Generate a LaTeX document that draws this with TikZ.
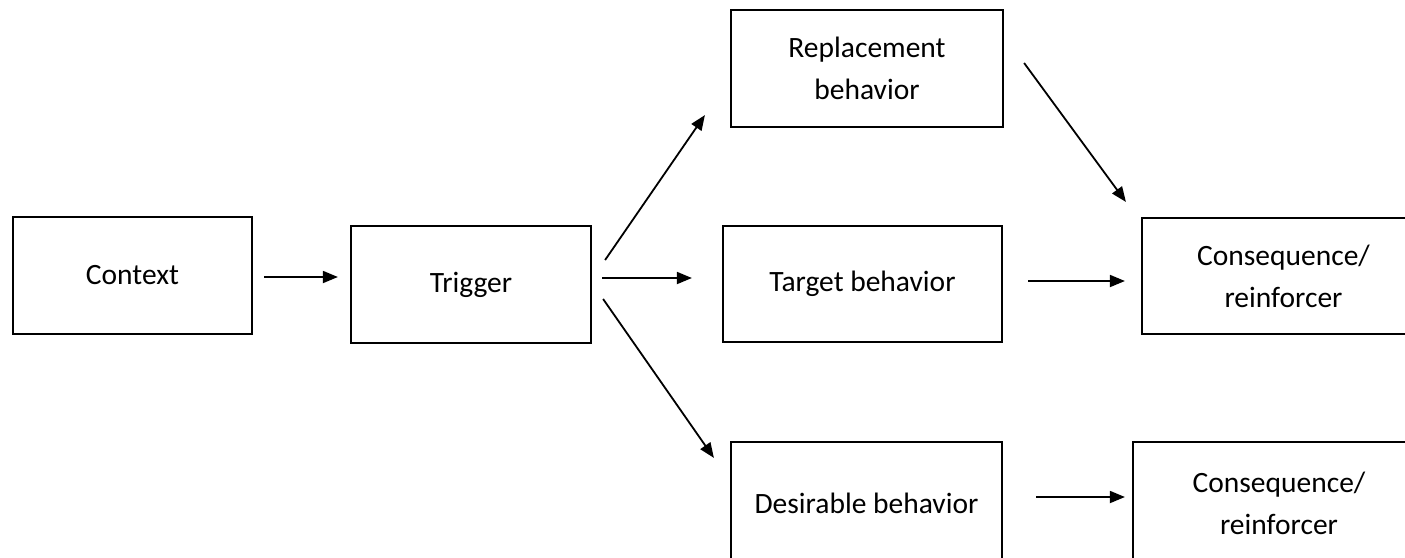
\documentclass[tikz,border=0pt]{standalone}
\usepackage{fontspec}
\setmainfont{Carlito}
\usetikzlibrary{arrows.meta}
\begin{document}
\begin{tikzpicture}[x=1pt,y=-1pt,
  box/.style={draw, line width=2.2pt, rectangle, inner sep=0pt, align=center,
    font=\fontsize{29.5}{42}\selectfont, minimum height=117pt},
  arr/.style={line width=1.8pt, -{Triangle[length=15pt,width=12pt]}}]
\useasboundingbox (0,0) rectangle (1405,557);
\clip (0,0) rectangle (1405,557);
\node[box, minimum width=239pt] (ctx) at (132.5,275.5) {Context};
\node[box, minimum width=240pt] (trg) at (471,284.5) {Trigger};
\node[box, minimum width=272pt] (rep) at (867,68.5) {Replacement\\behavior};
\node[box, minimum width=279pt, minimum height=116pt] (tgt) at (862.5,284) {Target behavior};
\node[box, minimum width=271pt, minimum height=122pt] (des) at (866.5,503) {Desirable behavior};
\node[box, minimum width=283pt, minimum height=116pt] (c1) at (1283.5,276) {Consequence/\\reinforcer};
\node[box, minimum width=292pt, minimum height=122pt] (c2) at (1279,503) {Consequence/\\reinforcer};
\draw[arr] ([shift={(11pt,-1.5pt)}]ctx.east) -- ([shift={(-12pt,-1.5pt)}]ctx.east -| trg.west);
\draw[arr] ([shift={(10pt,6.5pt)}]trg.east) -- ([shift={(-30pt,6.5pt)}]trg.east -| tgt.west);
\draw[arr] ([shift={(13pt,24.5pt)}]trg.east) -- ([shift={(-25pt,13pt)}]rep.south west);
\draw[arr] ([shift={(11pt,-14.5pt)}]trg.east) -- ([shift={(-16pt,-17pt)}]des.north west);
\draw[arr] ([shift={(20pt,5.5pt)}]rep.east) -- ([shift={(-15pt,15pt)}]c1.north west);
\draw[arr] ([shift={(25pt,3pt)}]tgt.east) -- ([shift={(-16pt,3pt)}]tgt.east -| c1.west);
\draw[arr] ([shift={(33pt,6pt)}]des.east) -- ([shift={(-7pt,6pt)}]des.east -| c2.west);
\end{tikzpicture}
\end{document}
